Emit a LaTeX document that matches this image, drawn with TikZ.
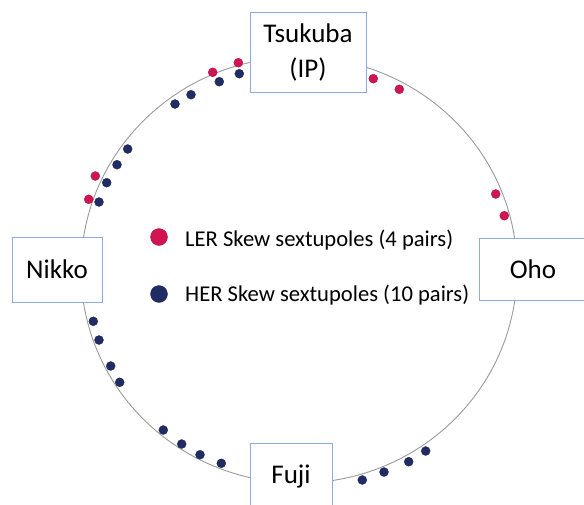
\documentclass[tikz,border=0pt]{standalone}
\usepackage{fontspec}
\setmainfont{Carlito}
\definecolor{lerred}{HTML}{D31452}
\definecolor{hernavy}{HTML}{1F2D64}
\definecolor{boxblue}{HTML}{8FAADC}
\definecolor{ringgray}{HTML}{9A9A9A}
\tikzset{
  station/.style={draw=boxblue, fill=white, line width=1pt, align=center, inner sep=0pt,
    font=\fontsize{27}{35}\selectfont},
  lerdot/.style={circle, fill=lerred, draw=lerred!70!black, line width=0.3pt, inner sep=0pt, minimum size=9pt},
  herdot/.style={circle, fill=hernavy, draw=hernavy!70!black, line width=0.3pt, inner sep=0pt, minimum size=9pt},
  legtext/.style={font=\fontsize{22.6}{26}\selectfont, anchor=base west, inner sep=0pt}
}
\begin{document}
\begin{tikzpicture}[x=1pt,y=-1pt]
\useasboundingbox (0,0) rectangle (584,504);
\clip (0,0) rectangle (584,504);
\draw[ringgray, line width=0.9pt] (299,270) ellipse [x radius=218, y radius=213];
% stations
\node[station, minimum width=116pt, minimum height=80pt] (tsukuba) at (308,52) {Tsukuba\\(IP)};
\node[station, minimum width=90pt, minimum height=65pt] (nikko) at (57,269.5) {Nikko};
\node[station, minimum width=108pt, minimum height=62pt] (oho) at (533,269) {Oho};
\node[station, minimum width=82pt, minimum height=68pt] (fuji) at (291,477) {Fuji};
% LER dots
\node[lerdot] (l1) at (212.7,72.3) {};
\node[lerdot] (l2) at (238.3,62.7) {};
\node[lerdot] (l3) at (373.3,78.7) {};
\node[lerdot] (l4) at (399.3,89.3) {};
\node[lerdot] (l5) at (95.3,176) {};
\node[lerdot] (l6) at (88.7,199.3) {};
\node[lerdot] (l7) at (495.7,194) {};
\node[lerdot] (l8) at (504.3,215.7) {};
% HER dots
\node[herdot] (h1) at (175,104) {};
\node[herdot] (h2) at (191,94.7) {};
\node[herdot] (h3) at (219.3,81.7) {};
\node[herdot] (h4) at (239.3,73.7) {};
\node[herdot] (h5) at (127.7,149) {};
\node[herdot] (h6) at (117,164.7) {};
\node[herdot] (h7) at (106.7,182.7) {};
\node[herdot] (h8) at (99,202) {};
\node[herdot] (h9) at (93.3,321.3) {};
\node[herdot] (h10) at (99,340) {};
\node[herdot] (h11) at (110.7,366) {};
\node[herdot] (h12) at (119.7,382.3) {};
\node[herdot] (h13) at (163.3,430) {};
\node[herdot] (h14) at (181.7,444) {};
\node[herdot] (h15) at (200,454.7) {};
\node[herdot] (h16) at (221.3,463.3) {};
\node[herdot] (h17) at (362.3,480) {};
\node[herdot] (h18) at (384,472) {};
\node[herdot] (h19) at (408.7,461.7) {};
\node[herdot] (h20) at (425.7,451) {};
% legend
\node[lerdot, minimum size=17pt] (legler) at (159,237) {};
\node[legtext] (leglertext) at (185,246.7) {LER Skew sextupoles (4 pairs)};
\node[herdot, minimum size=17pt] (legher) at (159,294) {};
\node[legtext] (leghertext) at (185,301.7) {HER Skew sextupoles (10 pairs)};
\end{tikzpicture}
\end{document}
